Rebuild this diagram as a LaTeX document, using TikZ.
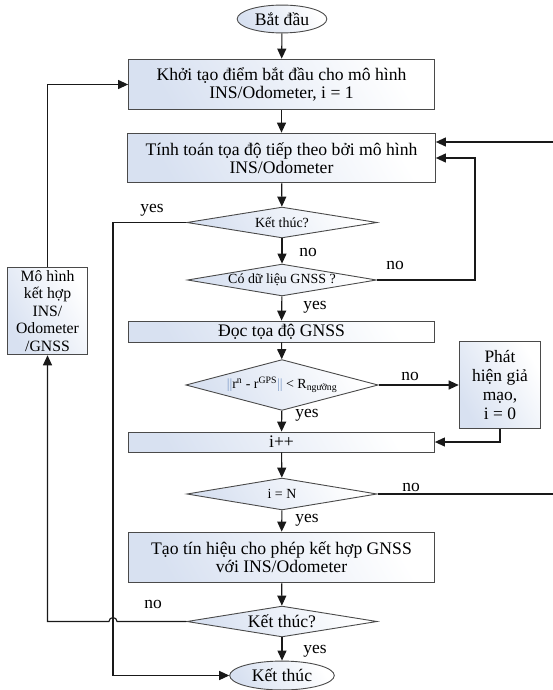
\documentclass[tikz,border=0pt]{standalone}
\usepackage{fontspec}
\setmainfont{Liberation Serif}
\usetikzlibrary{arrows.meta,shapes.geometric,calc}
\definecolor{edge}{HTML}{4A4A4A}
\definecolor{shadeblue}{HTML}{D8E1F1}
\definecolor{barblue}{HTML}{7F9CC8}
\tikzset{
  ln/.style={draw=black!90, line width=1.1bp},
  arr/.style={ln, -{Triangle[length=10bp,width=9bp]}},
  shadefill/.style={draw=edge, line width=0.9bp, left color=shadeblue, right color=white, shading angle=120},
  box/.style={shadefill, rectangle, inner sep=0pt, align=center, font=\fontsize{17.7}{18}\selectfont},
  dia/.style={shadefill, diamond, inner sep=0pt, shape aspect=6, font=\fontsize{14}{15}\selectfont},
  oval/.style={shadefill, ellipse, inner sep=0pt, font=\fontsize{17.7}{18}\selectfont},
  lbl/.style={font=\fontsize{17.5}{18}\selectfont, inner sep=0pt}
}
\begin{document}
\begin{tikzpicture}[x=1bp,y=-1bp]
\clip (0,0) rectangle (553,690);
\fill[white] (0,0) rectangle (553,690);

\node[oval, minimum width=90, minimum height=28] (start) at (282,19) {Bắt đầu};
\node[box, minimum width=307, minimum height=51] (b1) at (281.5,84.5) {Khởi tạo điểm bắt đầu cho mô hình\\INS/Odometer, i = 1};
\node[box, minimum width=309, minimum height=50] (b2) at (281.5,158) {Tính toán tọa độ tiếp theo bởi mô hình\\INS/Odometer};
\node[dia, minimum width=191, minimum height=31] (d1) at (282,222.5) {Kết thúc?};
\node[dia, minimum width=190, minimum height=32] (d2) at (282,280) {Có dữ liệu GNSS ?};
\node[box, minimum width=307, minimum height=21] (b3) at (281.5,331.5) {Đọc tọa độ GNSS};
\node[dia, shape aspect=3.8, minimum width=193, minimum height=51, font=\fontsize{14}{15}\selectfont] (d3) at (282,385)
  {{\color{barblue}||}r\textsuperscript{n} - r\textsuperscript{GPS}{\color{barblue}||} < R\textsubscript{ngưỡng}};
\node[box, minimum width=82, minimum height=87, font=\fontsize{17.5}{19.2}\selectfont] (b4) at (500,385) {Phát\\hiện giả\\mạo,\\i = 0};
\node[box, minimum width=307, minimum height=20] (b5) at (281.5,442) {i++};
\node[dia, minimum width=191, minimum height=32] (d4) at (282,494) {i = N};
\node[box, minimum width=307, minimum height=51] (b6) at (281.5,557.5) {Tạo tín hiệu cho phép kết hợp GNSS\\với INS/Odometer};
\node[dia, minimum width=191, minimum height=31, font=\fontsize{17.7}{18}\selectfont] (d5) at (282,621.5) {Kết thúc?};
\node[oval, minimum width=105, minimum height=29] (end) at (282,675.5) {Kết thúc};
\node[box, minimum width=81, minimum height=88, font=\fontsize{15.8}{17.5}\selectfont] (lb) at (47.5,311) {Mô hình\\kết hợp\\INS/\\Odometer\\/GNSS};

\coordinate (b2hi) at ($(b2.east)+(0,-16)$);
\coordinate (yesx) at (113,222.5);
\coordinate (nox) at (475,280);
\coordinate (rx) at (560,494);
\coordinate (hopR) at (117,621.5);
\coordinate (leftx) at (47.5,621.5);

\draw[arr] (start) -- (b1);
\draw[arr] (b1) -- (b2);
\draw[arr] (b2) -- (d1);
\draw[arr] (d1) -- (d2);
\draw[arr] (d1.west) -- (yesx) |- (end.west);
\draw[arr] (d2.east) -- (nox) |- (b2.east);
\draw[arr] (d2) -- (b3);
\draw[arr] (b3) -- (d3);
\draw[arr] (d3.east) -- (b4.west |- d3.east);
\draw[arr] (b4.south) |- (b5.east);
\draw[arr] (d3) -- (b5);
\draw[arr] (b5) -- (d4);
\draw[arr] (d4.east) -- (rx) |- (b2hi);
\draw[arr] (d4) -- (b6);
\draw[arr] (b6) -- (d5);
\draw[arr] (d5) -- (end);
\draw[arr] (d5.west) -- (hopR) arc[start angle=0, end angle=-180, radius=4] -- (leftx) -- (lb.south);
\draw[arr] (lb.north) |- (b1.west);

\node[lbl] (l1) at (152,210) {yes};
\node[lbl] (l2) at (308,252) {no};
\node[lbl] (l3) at (395,265) {no};
\node[lbl] (l4) at (315,307) {yes};
\node[lbl] (l5) at (410,376) {no};
\node[lbl] (l6) at (307,415) {yes};
\node[lbl] (l7) at (411,487) {no};
\node[lbl] (l8) at (307,520) {yes};
\node[lbl] (l9) at (153,604) {no};
\node[lbl] (l10) at (315,651) {yes};
\end{tikzpicture}
\end{document}
